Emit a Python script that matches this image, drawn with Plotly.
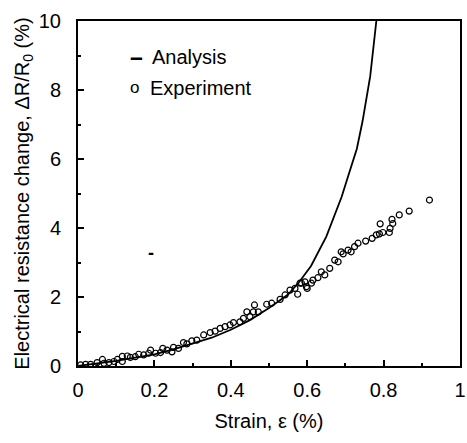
import plotly.graph_objects as go

# Analysis curve
analysis_strain = [0.0, 0.05, 0.1, 0.15, 0.2, 0.25, 0.3, 0.35, 0.4, 0.45, 0.5, 0.55,
                   0.58, 0.61, 0.65, 0.69, 0.71, 0.73, 0.745, 0.765, 0.781]
analysis_dr = [0.0, 0.07, 0.15, 0.24, 0.34, 0.48, 0.64, 0.82, 1.05, 1.33, 1.68, 2.07,
               2.45, 2.9, 3.75, 4.9, 5.6, 6.3, 7.1, 8.4, 10.0]

# Experiment points
exp_strain = [0.007, 0.020, 0.033, 0.046, 0.050, 0.064, 0.068, 0.081, 0.094, 0.103,
              0.116, 0.116, 0.129, 0.137, 0.150, 0.159, 0.172, 0.185, 0.190, 0.203,
              0.216, 0.222, 0.233, 0.246, 0.250, 0.263, 0.276, 0.285, 0.298, 0.311,
              0.329, 0.346, 0.359, 0.372, 0.385, 0.398, 0.407, 0.424, 0.433, 0.442,
              0.450, 0.459, 0.462, 0.472, 0.494, 0.507, 0.529, 0.542, 0.555, 0.568,
              0.575, 0.581, 0.585, 0.594, 0.598, 0.600, 0.611, 0.615, 0.628, 0.637,
              0.646, 0.659, 0.672, 0.681, 0.689, 0.694, 0.707, 0.715, 0.724, 0.733,
              0.753, 0.770, 0.781, 0.789, 0.791, 0.798, 0.815, 0.817, 0.822, 0.824,
              0.841, 0.867, 0.920]
exp_dr = [0.03, 0.05, 0.05, -0.02, 0.10, 0.19, 0.08, 0.10, 0.13, 0.19,
          0.13, 0.28, 0.29, 0.25, 0.27, 0.34, 0.32, 0.37, 0.46, 0.37,
          0.39, 0.51, 0.46, 0.41, 0.54, 0.51, 0.68, 0.64, 0.73, 0.75,
          0.90, 0.97, 1.01, 1.09, 1.14, 1.19, 1.26, 1.28, 1.38, 1.57,
          1.43, 1.57, 1.77, 1.57, 1.79, 1.82, 1.93, 2.06, 2.20, 2.25,
          2.08, 2.40, 2.40, 2.44, 2.30, 2.25, 2.40, 2.49, 2.56, 2.73,
          2.64, 2.83, 3.07, 3.02, 3.31, 3.25, 3.36, 3.31, 3.46, 3.56,
          3.62, 3.70, 3.80, 3.83, 4.12, 3.87, 3.87, 3.99, 4.25, 4.13,
          4.38, 4.49, 4.81]

legend_labels = ["Analysis", "Experiment"]

FONT = "Liberation Sans, Arial, sans-serif"

fig = go.Figure()
fig.add_trace(go.Scatter(x=analysis_strain, y=analysis_dr, mode="lines",
                         name=legend_labels[0], line=dict(color="black", width=1.8)))
fig.add_trace(go.Scatter(x=exp_strain, y=exp_dr, mode="markers", name=legend_labels[1],
                         marker=dict(symbol="circle-open", size=6, color="black",
                                     line=dict(width=1.2, color="black"))))

# hand-made legend
ann_font = dict(family=FONT, size=20, color="black")
fig.add_annotation(xref="paper", yref="paper", x=0.154, y=0.897, xanchor="center",
                   yanchor="middle", text="<b>–</b>", showarrow=False,
                   font=dict(family=FONT, size=23, color="black"))
fig.add_annotation(xref="paper", yref="paper", x=0.188, y=0.897, xanchor="left",
                   yanchor="middle", text=legend_labels[0], showarrow=False, font=ann_font)
fig.add_annotation(xref="paper", yref="paper", x=0.149, y=0.806, xanchor="center",
                   yanchor="middle", text="o", showarrow=False,
                   font=dict(family=FONT, size=17, color="black"))
fig.add_annotation(xref="paper", yref="paper", x=0.183, y=0.806, xanchor="left",
                   yanchor="middle", text=legend_labels[1], showarrow=False, font=ann_font)

fig.add_annotation(x=0.19, y=3.28, text="<b>-</b>", showarrow=False,
                   xanchor="center", yanchor="middle",
                   font=dict(family=FONT, size=18, color="black"))

fig.update_layout(
    width=467, height=443,
    margin=dict(l=78, r=7, t=21, b=77),
    paper_bgcolor="white", plot_bgcolor="white",
    font=dict(family=FONT, size=20, color="black"),
    showlegend=False,
)
fig.update_xaxes(range=[0, 1], tickvals=[0, 0.2, 0.4, 0.6, 0.8, 1],
                 ticktext=["0", "0.2", "0.4", "0.6", "0.8", "1"],
                 ticks="inside", ticklen=6, tickwidth=1.5, tickcolor="black",
                 minor=dict(tickvals=[0.1, 0.3, 0.5, 0.7, 0.9], ticks="inside",
                            ticklen=3, tickcolor="black"),
                 showline=True, linecolor="black", linewidth=2, mirror=True,
                 showgrid=False, zeroline=False, automargin=False,
                 ticklabeloverflow="allow",
                 tickfont=dict(size=20), ticklabelstandoff=5,
                 title=dict(text="Strain, ε (%)", font=dict(size=20), standoff=14))
fig.update_yaxes(range=[0, 10], tickvals=[0, 2, 4, 6, 8, 10],
                 ticks="inside", ticklen=6, tickwidth=1.5, tickcolor="black",
                 minor=dict(tickvals=[1, 3, 5, 7, 9], ticks="inside",
                            ticklen=3, tickcolor="black"),
                 showline=True, linecolor="black", linewidth=2, mirror=True,
                 showgrid=False, zeroline=False, automargin=False,
                 ticklabeloverflow="allow",
                 tickfont=dict(size=20), ticklabelstandoff=11,
                 title=dict(text="Electrical resistance change, ΔR/R<sub>0</sub> (%)",
                            font=dict(size=20), standoff=4))

fig.write_html("out.html", config={"displayModeBar": False},
               post_script="document.body.style.margin='0';document.body.style.overflow='hidden';")
